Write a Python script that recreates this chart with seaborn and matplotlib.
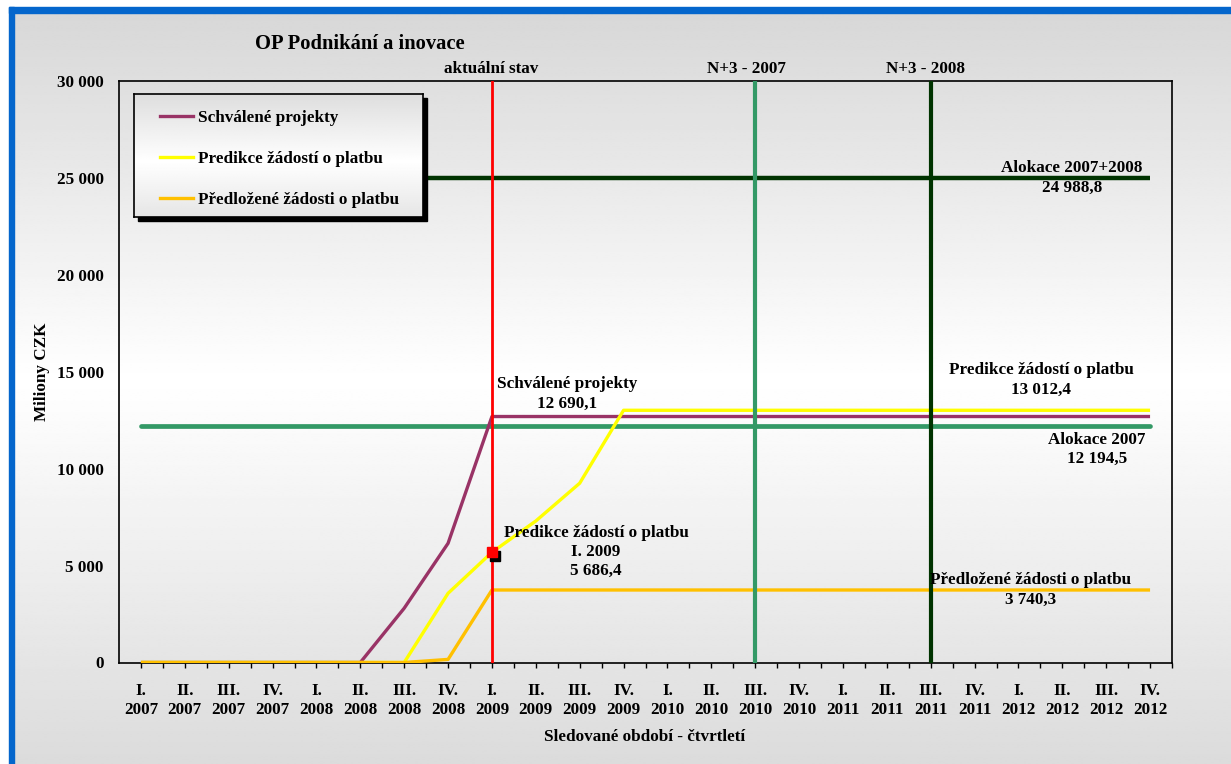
import numpy as np
import pandas as pd
import matplotlib
matplotlib.use("Agg")
import matplotlib.pyplot as plt
import matplotlib.transforms as mtransforms
from matplotlib.lines import Line2D
from matplotlib.patches import Rectangle
import seaborn as sns

# ---------------- data ----------------
quarters = ["I.", "II.", "III.", "IV."] * 6
years = ["2007"] * 4 + ["2008"] * 4 + ["2009"] * 4 + ["2010"] * 4 + ["2011"] * 4 + ["2012"] * 4

schvalene = [0, 0, 0, 0, 0, 0, 2800, 6150, 12690.1, 12690.1, 12690.1, 12690.1,
             12690.1, 12690.1, 12690.1, 12690.1, 12690.1, 12690.1, 12690.1, 12690.1,
             12690.1, 12690.1, 12690.1, 12690.1]
predikce = [0, 0, 0, 0, 0, 0, 0, 3570, 5686.4, 7300, 9250, 13012.4,
            13012.4, 13012.4, 13012.4, 13012.4, 13012.4, 13012.4, 13012.4, 13012.4,
            13012.4, 13012.4, 13012.4, 13012.4]
predlozene = [0, 0, 0, 0, 0, 0, 0, 160, 3740.3, 3740.3, 3740.3, 3740.3,
              3740.3, 3740.3, 3740.3, 3740.3, 3740.3, 3740.3, 3740.3, 3740.3,
              3740.3, 3740.3, 3740.3, 3740.3]
alokace_2007 = 12194.5
alokace_2007_2008 = 24988.8
aktualni_stav_idx = 8        # I. 2009
n3_2007_idx = 14             # III. 2010
n3_2008_idx = 18             # III. 2011
predikce_bod_value = 5686.4

series_names = ["Schválené projekty", "Predikce žádostí o platbu", "Předložené žádosti o platbu"]
yticks = [0, 5000, 10000, 15000, 20000, 25000, 30000]

# ---------------- style ----------------
W, H = 1231, 764
plt.rcParams["font.family"] = ["Liberation Serif", "DejaVu Serif"]
plt.rcParams["font.weight"] = "bold"
FS = 12.3

fig = plt.figure(figsize=(W / 100, H / 100), dpi=100, facecolor="white")

def fx(px):
    return px / W

def fy(py):
    return 1 - py / H

# background gradient (inside the blue frame)
bg = fig.add_axes([fx(14), 0, 1 - fx(14), fy(13)], zorder=-10)
rows = np.linspace(13, 764, 400)
shade = np.interp(rows, [13, 380, 764], [0.845, 1.0, 0.86])
bg.imshow(np.repeat(shade[:, None], 2, axis=1), cmap="gray", vmin=0, vmax=1,
          aspect="auto", extent=[0, 1, 0, 1], interpolation="bilinear")
bg.axis("off")

# blue frame (top + left)
fig.patches.append(Rectangle((fx(9), fy(13)), 1 - fx(9), (13 - 7) / H,
                             transform=fig.transFigure, color="#0466CC", zorder=5))
fig.patches.append(Rectangle((fx(9), 0), (14 - 9) / W, fy(7),
                             transform=fig.transFigure, color="#0466CC", zorder=5))

# main axes
L, R, T, B = 119, 1172, 81, 662.5
ax = fig.add_axes([fx(L), fy(B), fx(R - L), (B - T) / H])
ax.set_facecolor("none")

x = np.arange(len(quarters))
df = pd.DataFrame({
    "pos": np.concatenate([x, x, x]),
    "value": schvalene + predikce + predlozene,
    "series": np.repeat(series_names, len(x)),
})
colors = {"Schválené projekty": "#993366",
          "Predikce žádostí o platbu": "#FFFF00",
          "Předložené žádosti o platbu": "#FFC000"}

# allocation lines
sns.lineplot(x=x, y=[alokace_2007] * len(x), ax=ax, color="#339966", lw=3.4,
             solid_capstyle="round", zorder=2)
sns.lineplot(x=x, y=[alokace_2007_2008] * len(x), ax=ax, color="#003300", lw=3.2,
             solid_capstyle="butt", zorder=2)

for name in series_names:
    sub = df[df["series"] == name]
    sns.lineplot(data=sub, x="pos", y="value", ax=ax, color=colors[name], lw=2.4,
                 sort=False, zorder=3, solid_capstyle="butt")

ax.axvline(aktualni_stav_idx, color="#FF0000", lw=2.0, zorder=4)
ax.axvline(n3_2007_idx, color="#339966", lw=3.0, zorder=4)
ax.axvline(n3_2008_idx, color="#003300", lw=3.0, zorder=4)

shadow_tr = mtransforms.offset_copy(ax.transData, fig=fig, x=3.5, y=-3.5, units="dots")
ax.plot([aktualni_stav_idx], [predikce_bod_value], marker="s", ms=7.4, color="black",
        transform=shadow_tr, zorder=5, linestyle="none")
ax.plot([aktualni_stav_idx], [predikce_bod_value], marker="s", ms=7.4, color="#FF0000",
        zorder=6, linestyle="none")

ax.set_xlim(-0.5, len(x) - 0.5)
ax.set_ylim(0, 30000)
ax.set_xticks(x)
ax.set_xticklabels([f"{q}\n{y}" for q, y in zip(quarters, years)], fontsize=FS,
                   fontweight="bold", linespacing=1.3)
ax.set_xticks(np.arange(len(x)) + 0.5, minor=True)
ax.tick_params(axis="x", which="both", length=3.5, width=1, direction="out", pad=11,
               color="black")
ax.set_yticks(yticks)
ax.set_yticklabels([f"{v:,}".replace(",", " ") for v in yticks], fontsize=FS,
                   fontweight="bold")
ax.tick_params(axis="y", length=0, pad=11)
ax.set_xlabel("")
ax.set_ylabel("")
for s in ax.spines.values():
    s.set_color("black")
    s.set_linewidth(1.2)

# texts
def txt(s, px, py, size=FS):
    fig.text(fx(px), fy(py), s, ha="center", va="center", fontsize=size,
             fontweight="bold", linespacing=1.25, color="black", zorder=10)

txt("OP Podnikání a inovace", 360, 44, 14.8)
txt("aktuální stav", 491, 69)
txt("N+3 - 2007", 746, 69)
txt("N+3 - 2008", 925, 69)
txt("Alokace 2007+2008\n24 988,8", 1072, 178)
txt("Schválené projekty\n12 690,1", 567, 394)
txt("Predikce žádostí o platbu\nI. 2009\n5 686,4", 596, 552)
txt("Predikce žádostí o platbu\n13 012,4", 1041, 380)
txt("Alokace 2007\n12 194,5", 1097, 449)
txt("Předložené žádosti o platbu\n3 740,3", 1031, 590)
txt("Sledované období - čtvrtletí", 645, 737)
fig.text(fx(42), fy(372), "Miliony CZK", rotation=90, ha="center", va="center",
         fontsize=FS, fontweight="bold")

# legend box with shadow and gradient
lx0, ly0, lx1, ly1 = 134, 94, 423, 217
fig.patches.append(Rectangle((fx(lx0 + 4), fy(ly1 + 4)), fx(lx1 - lx0), (ly1 - ly0) / H,
                             transform=fig.transFigure, color="black", zorder=6))
lax = fig.add_axes([fx(lx0), fy(ly1), fx(lx1 - lx0), (ly1 - ly0) / H], zorder=7)
lrows = np.linspace(0, 1, 200)
lshade = np.interp(lrows, [0, 0.55, 1], [0.87, 1.0, 0.90])
lax.imshow(np.repeat(lshade[:, None], 2, axis=1), cmap="gray", vmin=0, vmax=1,
           aspect="auto", extent=[0, 1, 0, 1], interpolation="bilinear", origin="upper")
lax.set_xticks([])
lax.set_yticks([])
for s in lax.spines.values():
    s.set_color("black")
    s.set_linewidth(1.2)

handles = [Line2D([0], [0], color=colors[n], lw=2.4) for n in series_names]
leg = lax.legend(handles, series_names, loc="upper left", frameon=False,
                 bbox_to_anchor=(fx(160), fy(110)), bbox_transform=fig.transFigure,
                 borderpad=0, borderaxespad=0, handlelength=1.95, handletextpad=0.3,
                 labelspacing=1.45, prop={"size": FS, "weight": "bold"})

fig.savefig("out.png", dpi=100, facecolor="white")
